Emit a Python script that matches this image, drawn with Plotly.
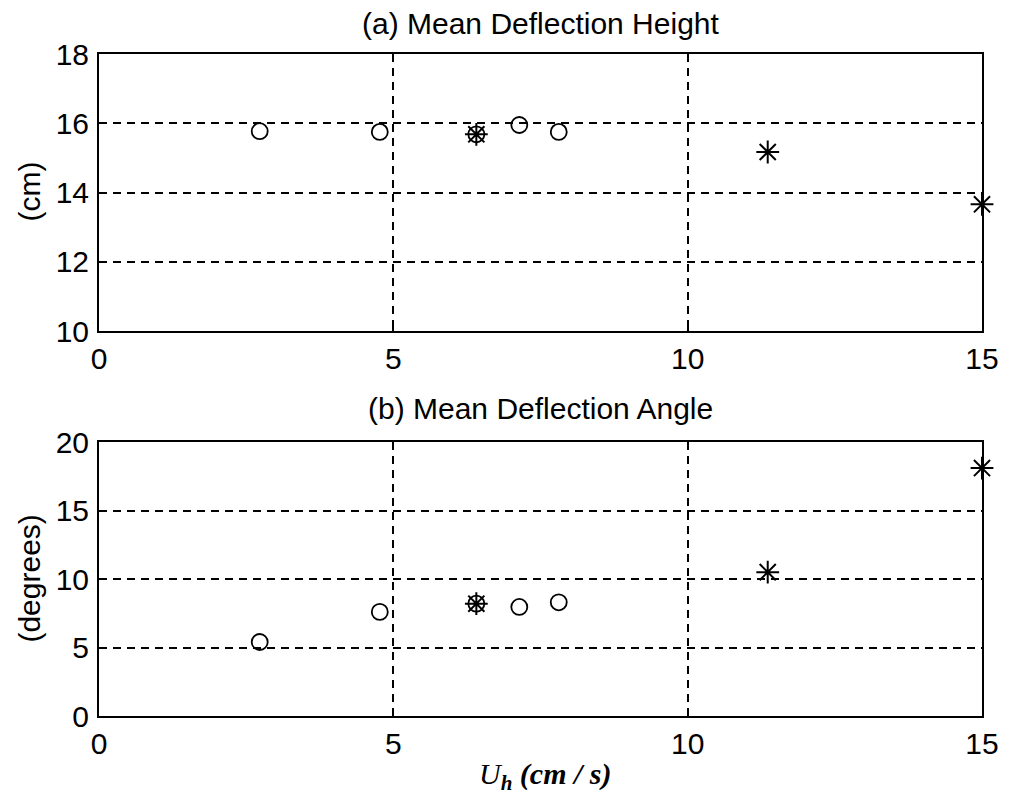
import plotly.graph_objects as go
from plotly.subplots import make_subplots

# Flow speed U_h (cm/s) for the two experiment series
u_circle = [2.73, 4.77, 6.41, 7.14, 7.81]
u_star = [6.41, 11.36, 15.0]

# Mean deflection height (cm)
height_circle = [15.77, 15.75, 15.68, 15.95, 15.75]
height_star = [15.68, 15.17, 13.66]

# Mean deflection angle (degrees)
angle_circle = [5.4, 7.6, 8.2, 7.96, 8.3]
angle_star = [8.2, 10.5, 18.1]

height_ticks = [10, 12, 14, 16, 18]
angle_ticks = [0, 5, 10, 15, 20]
u_ticks = [0, 5, 10, 15]

W, H = 1011, 797
L, R, T, B = 99, 22, 54, 81
plot_h = H - T - B


def py(px):
    """Pixel row to paper y."""
    return (H - B - px) / plot_h


def px_(x):
    """Pixel column to paper x."""
    return (x - L) / (W - L - R)


fig = make_subplots(rows=2, cols=1)

circle_style = dict(symbol="circle-open", size=16, color="black",
                    line=dict(width=1.8, color="black"))
star_style = dict(symbol="asterisk-open", size=19, color="black",
                  line=dict(width=2, color="black"))

fig.add_trace(go.Scatter(x=u_circle, y=height_circle, mode="markers",
                         marker=circle_style, cliponaxis=False), row=1, col=1)
fig.add_trace(go.Scatter(x=u_star, y=height_star, mode="markers",
                         marker=star_style, cliponaxis=False), row=1, col=1)
fig.add_trace(go.Scatter(x=u_circle, y=angle_circle, mode="markers",
                         marker=circle_style, cliponaxis=False), row=2, col=1)
fig.add_trace(go.Scatter(x=u_star, y=angle_star, mode="markers",
                         marker=star_style, cliponaxis=False), row=2, col=1)

tick_font = dict(family="Arial, Liberation Sans, sans-serif", size=30, color="black")
axis_common = dict(
    showline=True, mirror=True, linecolor="black", linewidth=2,
    showgrid=True, gridcolor="black", gridwidth=1.5, griddash="8px,6px",
    zeroline=False, ticks="inside", ticklen=6, tickcolor="black", tickwidth=1.5,
    tickfont=tick_font,
)

fig.update_xaxes(range=[0, 15], tickvals=u_ticks, ticklabelstandoff=0, **axis_common)
fig.update_yaxes(ticklabelstandoff=2, **axis_common)
fig.update_yaxes(range=[10, 18], tickvals=height_ticks, row=1, col=1)
fig.update_yaxes(range=[0, 20], tickvals=angle_ticks, row=2, col=1)

fig.update_layout(
    width=W, height=H,
    margin=dict(l=L, r=R, t=T, b=B),
    paper_bgcolor="white", plot_bgcolor="white",
    showlegend=False,
    xaxis=dict(domain=[0, 1]),
    yaxis=dict(domain=[py(331), 1.0]),
    xaxis2=dict(domain=[0, 1]),
    yaxis2=dict(domain=[0.0, py(442)]),
)

title_font = dict(family="Arial, Liberation Sans, sans-serif", size=30, color="black")
annotations = [
    dict(text="(a) Mean Deflection Height", x=px_(544), y=py(23)),
    dict(text="(b) Mean Deflection Angle", x=px_(544), y=py(409)),
    dict(text="(cm)", x=px_(28), y=py(192), textangle=-90),
    dict(text="(degrees)", x=px_(28), y=py(579), textangle=-90),
]
for a in annotations:
    fig.add_annotation(xref="paper", yref="paper", showarrow=False,
                       xanchor="center", yanchor="middle", font=title_font, **a)

fig.add_annotation(
    text="<i>U</i><sub><b><i>h</i></b></sub><b><i> (cm / s)</i></b>",
    xref="paper", yref="paper", x=px_(549), y=py(776),
    xanchor="center", yanchor="middle", showarrow=False,
    font=dict(family="Times New Roman, Liberation Serif, serif", size=30, color="black"),
)

fig.write_html("out.html")
